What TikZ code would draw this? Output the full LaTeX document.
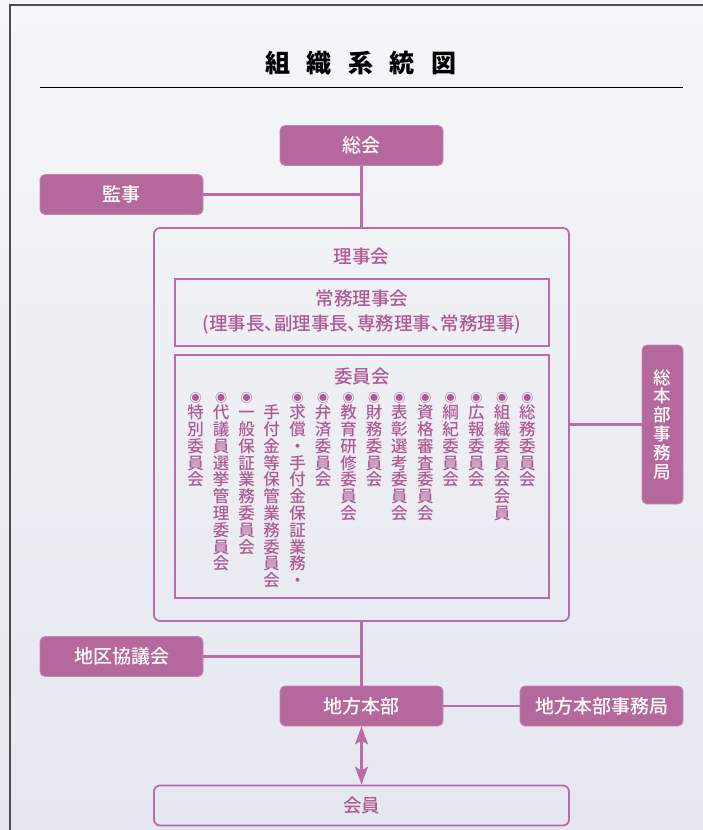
\documentclass[tikz,border=0pt]{standalone}
\usepackage{fontspec}
\setmainfont{Noto Sans CJK JP}
\newfontfamily\medfont{Noto Sans CJK JP Medium}
\newfontfamily\paltfont[RawFeature=+palt]{Noto Sans CJK JP Medium}
\usetikzlibrary{arrows.meta}
\definecolor{plum}{RGB}{181,104,156}
\definecolor{plumline}{RGB}{188,108,164}
\definecolor{plumtext}{RGB}{176,90,148}
\definecolor{bgtop}{RGB}{245,246,249}
\definecolor{bgbot}{RGB}{228,231,239}
\begin{document}
\begin{tikzpicture}[x=1pt,y=-1pt,
  fbox/.style={draw=plum!80!white, fill=plum, rounded corners=5pt, text=white,
    font=\medfont\fontsize{19}{21}\selectfont, minimum width=163pt, minimum height=40pt,
    inner sep=0pt, line width=0.8pt},
  obox/.style={draw=plumline, line width=1.8pt, rounded corners=6pt, inner sep=0pt},
  ibox/.style={draw=plumline, line width=1.2pt, inner sep=0pt},
  ptext/.style={text=plumtext, font=\paltfont\fontsize{18.5}{25}\selectfont, inner sep=0pt, align=center},
  col/.style={text=plumtext, font=\medfont\fontsize{16.5}{16.8}\selectfont, align=center,
    inner sep=0pt, anchor=north},
  conn/.style={draw=plumline, line width=2.6pt},
]
\useasboundingbox (0,0) rectangle (703,830);
\fill[top color=bgtop, bottom color=bgbot] (0,0) rectangle (703,830);
\draw[gray!60!black, line width=1.3pt] (10,830) -- (10,5) -- (703,5);

% title
\node[font=\fontsize{25}{28}\selectfont\bfseries, inner sep=0pt] (title) at (360.5,63)
  {組\hspace{16.5pt}織\hspace{16.5pt}系\hspace{16.5pt}統\hspace{16.5pt}図};
\draw[black, line width=1pt] (40,87) -- (683,87);

% top boxes
\node[fbox] (sokai) at (361.5,145.5) {総会};
\node[fbox] (kanji) at (121.5,194.5) {監事};

% board of directors
\node[obox, minimum width=415pt, minimum height=393pt] (riji) at (361.5,424.5) {};
\node[ptext] (rijilbl) at (361.5,256) {理事会};
\node[ibox, minimum width=374pt, minimum height=67pt] (joumu) at (362,312.5) {};
\node[ptext] (joumulbl) at (362,312.5) {常務理事会\\(理事長、副理事長、専務理事、常務理事)};
\node[ibox, minimum width=374pt, minimum height=243pt] (iinkai) at (362,476.5) {};
\node[ptext] (iinlbl) at (362,376) {委員会};

% committee columns
\newcommand{\bu}{{\fontsize{12}{12}\selectfont ◉}\\[-0.8pt]}
\newcommand{\nobu}{{\fontsize{12}{12}\selectfont\phantom{◉}}\\[-0.8pt]}
\node[col] (c1)  at (527.3,392.5) {\bu 総\\務\\委\\員\\会};
\node[col] (c2)  at (502.0,392.5) {\bu 組\\織\\委\\員\\会\\会\\員};
\node[col] (c3)  at (476.3,392.5) {\bu 広\\報\\委\\員\\会};
\node[col] (c4)  at (450.7,392.5) {\bu 綱\\紀\\委\\員\\会};
\node[col] (c5)  at (425.3,392.5) {\bu 資\\格\\審\\査\\委\\員\\会};
\node[col] (c6)  at (399.3,392.5) {\bu 表\\彰\\選\\考\\委\\員\\会};
\node[col] (c7)  at (374.0,392.5) {\bu 財\\務\\委\\員\\会};
\node[col] (c8)  at (348.7,392.5) {\bu 教\\育\\研\\修\\委\\員\\会};
\node[col] (c9)  at (323.0,392.5) {\bu 弁\\済\\委\\員\\会};
\node[col] (c10) at (297.7,392.5) {\bu 求\\償\\・\\手\\付\\金\\保\\証\\業\\務\\・};
\node[col] (c11) at (271.7,392.5) {\nobu 手\\付\\金\\等\\保\\管\\業\\務\\委\\員\\会};
\node[col] (c12) at (246.7,392.5) {\bu 一\\般\\保\\証\\業\\務\\委\\員\\会};
\node[col] (c13) at (221.0,392.5) {\bu 代\\議\\員\\選\\挙\\管\\理\\委\\員\\会};
\node[col] (c14) at (195.7,392.5) {\bu 特\\別\\委\\員\\会};

% head office secretariat
\node[fbox, minimum width=41pt, minimum height=159pt, align=center,
  font=\medfont\fontsize{17.5}{18.8}\selectfont] (honbu) at (662.5,424.5)
  {総\\本\\部\\事\\務\\局};

% lower boxes
\node[fbox] (chiku) at (121.5,656.5) {地区協議会};
\node[fbox] (chihou) at (361.5,706) {地方本部};
\node[fbox] (chihoujim) at (601.5,706) {地方本部事務局};
\node[obox, minimum width=415pt, minimum height=40pt, text=plumtext,
  font=\medfont\fontsize{18.5}{20}\selectfont] (kaiin) at (361.5,805.5) {会員};

% connectors
\draw[conn] (sokai.south) -- (riji.north);
\draw[conn] (kanji.east) -- (kanji.east -| riji.north);
\draw[conn] (honbu.west) -- (honbu.west -| riji.east);
\draw[conn] (riji.south) -- (chihou.north);
\draw[conn] (chiku.east) -- (chiku.east -| chihou.north);
\draw[conn] (chihou.east) -- (chihoujim.west);
\draw[conn, {Stealth[length=18pt,width=13pt,inset=4pt]}-{Stealth[length=18pt,width=13pt,inset=4pt]}]
  (chihou.south) -- (kaiin.north);
\end{tikzpicture}
\end{document}
